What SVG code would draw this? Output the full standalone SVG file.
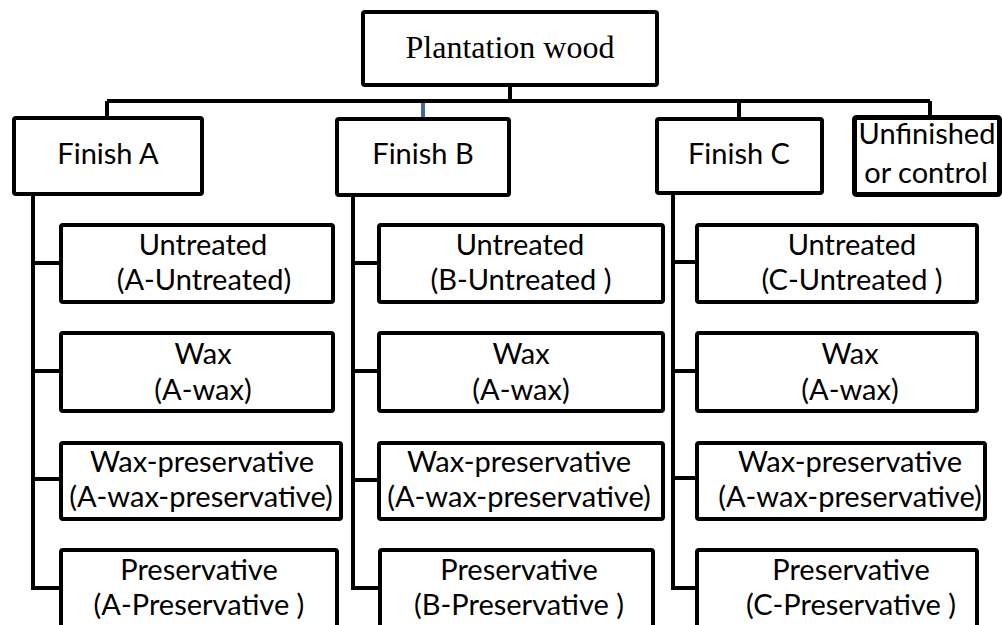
<svg xmlns="http://www.w3.org/2000/svg" width="1002" height="625" viewBox="0 0 1002 625">
<style>
.box{fill:#fff;stroke:#000;stroke-width:4;}
.t{font-family:Lato,"Liberation Sans",Arial,sans-serif;font-size:29px;fill:#000;text-anchor:middle;}
.tt{font-family:"Liberation Serif","Times New Roman",serif;font-size:32px;fill:#000;text-anchor:middle;}
.c{fill:none;stroke:#000;stroke-width:4;}
</style>
<rect x="0" y="0" width="1002" height="625" fill="#fff"/>
<g id="connectors">
<path class="c" d="M510 85V101M107 101H930M107 101V118M739 101V118M930 101V116"/>
<path d="M423 103V118" fill="none" stroke="#41699c" stroke-width="4"/>
<path class="c" d="M33 194V588H61M33 263H61M33 371H61M33 479H61"/>
<path class="c" d="M353 195V588H380M353 263H379M353 371H379M353 480H379"/>
<path class="c" d="M673 193V588H697M673 262H697M673 371H697M673 478H697"/>
</g>
<g id="root"><rect class="box" x="363" y="12" width="294" height="73" rx="2"/><text class="tt" x="510" y="58">Plantation wood</text></g>
<g id="finishA"><rect class="box" x="14" y="118" width="188" height="76" rx="2"/><text class="t" x="108" y="164">Finish A</text></g>
<g id="finishB"><rect class="box" x="337" y="119" width="172" height="76" rx="2"/><text class="t" x="423" y="164">Finish B</text></g>
<g id="finishC"><rect class="box" x="657" y="119" width="165" height="74" rx="2"/><text class="t" x="739" y="164">Finish C</text></g>
<g id="unfinished"><rect x="854.5" y="117.5" width="145" height="77" rx="2" fill="#fff" stroke="#000" stroke-width="5"/><text class="t" x="927" y="144">Unfinished</text><text class="t" x="926" y="183">or control</text></g>

<g id="A-untreated"><rect class="box" x="61" y="225" width="272" height="77" rx="2"/><text class="t" x="203" y="255">Untreated</text><text class="t" x="204" y="290">(A-Untreated)</text></g>
<g id="A-wax"><rect class="box" x="61" y="333" width="272" height="78" rx="2"/><text class="t" x="203" y="364">Wax</text><text class="t" x="203" y="400">(A-wax)</text></g>
<g id="A-waxpres"><rect class="box" x="61" y="443" width="280" height="76" rx="2"/><text class="t" x="202" y="472">Wax-preservative</text><text class="t" x="201" y="507">(A-wax-preservative)</text></g>
<g id="A-pres"><rect class="box" x="61" y="550" width="276" height="90" rx="2"/><text class="t" x="199" y="580">Preservative</text><text class="t" x="199" y="615">(A-Preservative )</text></g>

<g id="B-untreated"><rect class="box" x="379" y="225" width="284" height="77" rx="2"/><text class="t" x="520" y="255">Untreated</text><text class="t" x="521" y="290">(B-Untreated )</text></g>
<g id="B-wax"><rect class="box" x="379" y="333" width="284" height="78" rx="2"/><text class="t" x="521" y="364">Wax</text><text class="t" x="521" y="400">(A-wax)</text></g>
<g id="B-waxpres"><rect class="box" x="379" y="443" width="284" height="76" rx="2"/><text class="t" x="519" y="472">Wax-preservative</text><text class="t" x="519" y="507">(A-wax-preservative)</text></g>
<g id="B-pres"><rect class="box" x="380" y="550" width="273" height="90" rx="2"/><text class="t" x="519" y="580">Preservative</text><text class="t" x="519" y="615">(B-Preservative )</text></g>

<g id="C-untreated"><rect class="box" x="697" y="225" width="280" height="77" rx="2"/><text class="t" x="852" y="255">Untreated</text><text class="t" x="852" y="290">(C-Untreated )</text></g>
<g id="C-wax"><rect class="box" x="697" y="333" width="280" height="78" rx="2"/><text class="t" x="850" y="364">Wax</text><text class="t" x="850" y="400">(A-wax)</text></g>
<g id="C-waxpres"><rect class="box" x="697" y="443" width="288" height="76" rx="2"/><text class="t" x="850" y="472">Wax-preservative</text><text class="t" x="850" y="507">(A-wax-preservative)</text></g>
<g id="C-pres"><rect class="box" x="697" y="550" width="280" height="90" rx="2"/><text class="t" x="851" y="580">Preservative</text><text class="t" x="851" y="615">(C-Preservative )</text></g>
</svg>
